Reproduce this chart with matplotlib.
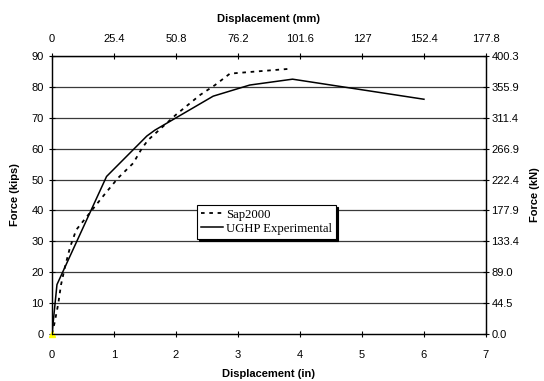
import matplotlib
matplotlib.use("Agg")
import matplotlib.pyplot as plt

# Sap2000 analytical curve (in, kips)
sapDisp = [0.0, 0.04, 0.10, 0.145, 0.21, 0.29, 0.39, 0.57, 0.68, 0.88, 1.07, 1.31,
           1.45, 1.55, 2.0, 2.39, 2.63, 2.87, 3.3, 3.8]
sapForce = [0.0, 3.5, 9.7, 15.9, 21.8, 28.0, 33.7, 38.2, 41.0, 46.0, 50.6, 55.3,
            60.1, 62.8, 71.0, 77.4, 80.6, 84.3, 85.0, 85.8]

# UGHP experimental curve (in, kips)
expDisp = [0.0, 0.08, 0.88, 1.53, 1.66, 2.6, 3.19, 3.88, 6.0]
expForce = [0.0, 16.0, 51.0, 64.1, 66.0, 77.0, 80.6, 82.5, 76.0]

inTicks = [0, 1, 2, 3, 4, 5, 6, 7]
mmLabels = ["0", "25.4", "50.8", "76.2", "101.6", "127", "152.4", "177.8"]
kipTicks = [0, 10, 20, 30, 40, 50, 60, 70, 80, 90]
kNLabels = ["0.0", "44.5", "89.0", "133.4", "177.9", "222.4", "266.9", "311.4", "355.9", "400.3"]

plt.rcParams["font.family"] = ["Liberation Sans", "DejaVu Sans"]
plt.rcParams["font.size"] = 8

fig = plt.figure(figsize=(5.44, 3.81), dpi=100)
ax = fig.add_axes([0.0956, 0.1234, 0.7977, 0.7296])

for y in kipTicks[1:]:
    ax.axhline(y, color="#3a3a3a", linewidth=0.9, zorder=1)

ax.plot(sapDisp, sapForce, color="black", linestyle=(0, (2, 2.6)), linewidth=1.3,
        label="Sap2000", zorder=3)
ax.plot(expDisp, expForce, color="black", linestyle="-", linewidth=1.1,
        label="UGHP Experimental", zorder=3)
ax.plot([0], [0], marker="^", color="yellow", markersize=4, linestyle="none",
        clip_on=False, zorder=4)

ax.set_xlim(0, 7)
ax.set_ylim(0, 90)
ax.set_xticks(inTicks)
ax.set_yticks(kipTicks)
ax.tick_params(direction="inout", length=5, width=0.8, labelsize=8)
ax.tick_params(axis="x", pad=9)
ax.set_xlabel("Displacement (in)", fontweight="bold", fontsize=8, labelpad=6.5)
ax.set_ylabel("Force (kips)", fontweight="bold", fontsize=8, labelpad=8)
for s in ax.spines.values():
    s.set_linewidth(0.9)

top = ax.twiny()
top.set_xlim(0, 7)
top.set_xticks(inTicks)
top.set_xticklabels(mmLabels)
top.tick_params(direction="inout", length=5, width=0.8, labelsize=8, pad=6.5)
top.set_xlabel("Displacement (mm)", fontweight="bold", fontsize=8, labelpad=8.5)

right = ax.twinx()
right.set_ylim(0, 90)
right.set_yticks(kipTicks)
right.set_yticklabels(kNLabels)
right.tick_params(direction="inout", length=5, width=0.8, labelsize=8, pad=1.5)
right.set_ylabel("Force (kN)", fontweight="bold", fontsize=8, labelpad=8)

leg = ax.legend(loc="upper left", bbox_to_anchor=(0.334, 0.464), frameon=True,
                fancybox=False, shadow={"color": "black", "alpha": 1, "ox": 1.5, "oy": -1.5},
                prop={"family": "Liberation Serif", "size": 9.2},
                handlelength=1.75, handletextpad=0.2, borderpad=0.3,
                labelspacing=0.15, borderaxespad=0)
leg.get_frame().set_edgecolor("black")
leg.get_frame().set_linewidth(0.8)
leg.set_zorder(5)

fig.savefig("out.png", dpi=100)
